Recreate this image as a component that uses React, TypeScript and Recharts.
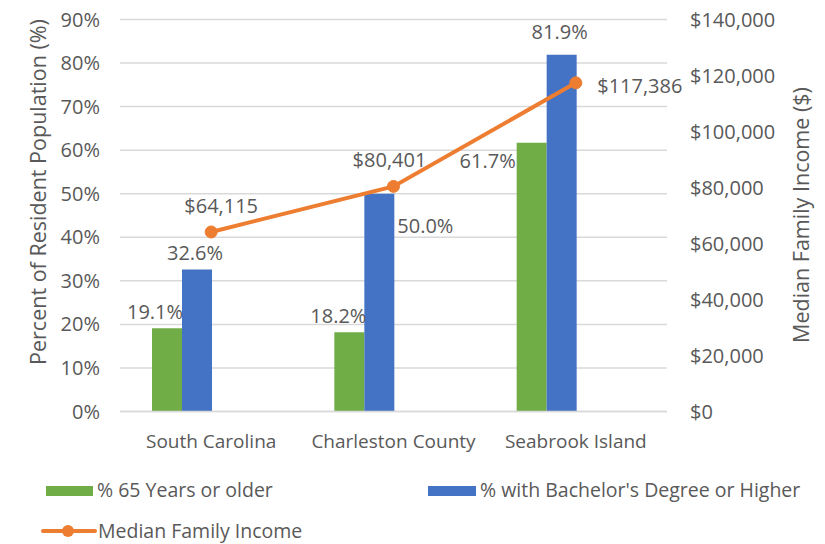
import * as React from "react";
import {
  ComposedChart,
  Bar,
  Line,
  XAxis,
  YAxis,
  CartesianGrid,
  LabelList,
} from "recharts";

const categories = ["South Carolina", "Charleston County", "Seabrook Island"];
const pctSeniors = [19.1, 18.2, 61.7];
const pctBachelors = [32.6, 50.0, 81.9];
const medianIncome = [64115, 80401, 117386];
const pctTicks = [0, 10, 20, 30, 40, 50, 60, 70, 80, 90];
const incomeTicks = [0, 20000, 40000, 60000, 80000, 100000, 120000, 140000];

const GREEN = "#70AD47";
const BLUE = "#4472C4";
const ORANGE = "#ED7D31";
const TEXT = "#595959";
const GRID = "#D9D9D9";
const FONT = "'Open Sans', 'Noto Sans', sans-serif";

// label nudges (text centre relative to bar top-centre / point), Excel placed some by hand
const seniorsNudge = [[-12, -17], [-11, -17], [-44, 18]];
const bachelorsNudge = [[-2, -17], [46, 32], [-2, -23]];
const incomeNudge = [[10, -26], [-4, -27], [64, 3]];

const data = categories.map((name, i) => ({
  name,
  seniors: pctSeniors[i],
  bachelors: pctBachelors[i],
  income: medianIncome[i],
}));

const fmtPct = (v: number) => `${v.toFixed(1)}%`;
const fmtMoney = (v: number) => `$${v.toLocaleString("en-US")}`;

const makeLabel =
  (nudge: number[][], fmt: (v: number) => string, isBar: boolean) =>
  (props: any) => {
    const { x, y, width, value, index } = props;
    const [dx, dy] = nudge[index] || [0, 0];
    const cx = isBar ? Number(x) + Number(width) / 2 : Number(x);
    return (
      <text
        x={cx + dx}
        y={Number(y) + dy}
        textAnchor="middle"
        dominantBaseline="central"
        fill={TEXT}
        fontSize={20}
        fontFamily={FONT}
      >
        {fmt(Number(value))}
      </text>
    );
  };

const tickStyle = { fill: TEXT, fontSize: 20, fontFamily: FONT };

const AxisTitle = ({ x, y, text }: { x: number; y: number; text: string }) => (
  <text
    x={x}
    y={y}
    transform={`rotate(-90 ${x} ${y})`}
    textAnchor="middle"
    dominantBaseline="central"
    fill={TEXT}
    fontSize={21.5}
    fontFamily={FONT}
  >
    {text}
  </text>
);

export default function App() {
  return (
    <div
      style={{
        position: "absolute",
        left: 0,
        top: 0,
        width: 825,
        height: 544,
        background: "#fff",
        fontFamily: FONT,
      }}
    >
      <ComposedChart
        width={825}
        height={460}
        data={data}
        margin={{ top: 19.5, right: 40, left: 60, bottom: 0 }}
        barCategoryGap={32}
        barGap={0}
      >
        <CartesianGrid vertical={false} stroke={GRID} strokeWidth={1.5} yAxisId="left" />
        <XAxis
          dataKey="name"
          height={48.5}
          tickLine={false}
          axisLine={{ stroke: GRID, strokeWidth: 1.5 }}
          tick={{ ...tickStyle, fontSize: 19 }}
          tickMargin={17}
        />
        <YAxis
          yAxisId="left"
          width={60}
          domain={[0, 90]}
          ticks={pctTicks}
          tickFormatter={(v) => `${v}%`}
          axisLine={false}
          tickLine={false}
          tick={tickStyle}
          tickMargin={14}
          label={{
            content: () => <AxisTitle x={37} y={192} text="Percent of Resident Population (%)" />,
          }}
        />
        <YAxis
          yAxisId="right"
          orientation="right"
          width={118}
          domain={[0, 140000]}
          ticks={incomeTicks}
          tickFormatter={fmtMoney}
          axisLine={false}
          tickLine={false}
          tick={{ ...tickStyle, textAnchor: "start" }}
          tickMargin={17}
          label={{
            content: () => <AxisTitle x={800} y={215} text="Median Family Income ($)" />,
          }}
        />
        <Bar yAxisId="left" dataKey="seniors" fill={GREEN} isAnimationActive={false}>
          <LabelList dataKey="seniors" content={makeLabel(seniorsNudge, fmtPct, true)} />
        </Bar>
        <Bar yAxisId="left" dataKey="bachelors" fill={BLUE} isAnimationActive={false}>
          <LabelList dataKey="bachelors" content={makeLabel(bachelorsNudge, fmtPct, true)} />
        </Bar>
        {/* two empty series in the source workbook keep the bars left of centre */}
        <Bar yAxisId="left" dataKey="emptyA" fill="none" isAnimationActive={false} />
        <Bar yAxisId="left" dataKey="emptyB" fill="none" isAnimationActive={false} />
        <Line
          yAxisId="right"
          dataKey="income"
          stroke={ORANGE}
          strokeWidth={4}
          dot={{ r: 6, fill: ORANGE, stroke: ORANGE, strokeWidth: 1 }}
          isAnimationActive={false}
        >
          <LabelList dataKey="income" content={makeLabel(incomeNudge, fmtMoney, false)} />
        </Line>
      </ComposedChart>

      <div style={{ position: "absolute", left: 0, top: 0, color: TEXT, fontSize: 19.5 }}>
        <div style={{ position: "absolute", left: 46, top: 486, width: 47, height: 10, background: GREEN }} />
        <div style={{ position: "absolute", left: 97, top: 477, whiteSpace: "nowrap", lineHeight: "26px" }}>
          % 65 Years or older
        </div>
        <div style={{ position: "absolute", left: 428, top: 486, width: 48, height: 10, background: BLUE }} />
        <div style={{ position: "absolute", left: 480, top: 477, whiteSpace: "nowrap", lineHeight: "26px" }}>
          % with Bachelor&apos;s Degree or Higher
        </div>
        <svg style={{ position: "absolute", left: 40, top: 520 }} width={58} height={22}>
          <line x1={3} y1={11} x2={55} y2={11} stroke={ORANGE} strokeWidth={4} strokeLinecap="round" />
          <circle cx={28} cy={11} r={6} fill={ORANGE} />
        </svg>
        <div style={{ position: "absolute", left: 98, top: 518, whiteSpace: "nowrap", lineHeight: "26px" }}>
          Median Family Income
        </div>
      </div>
    </div>
  );
}
